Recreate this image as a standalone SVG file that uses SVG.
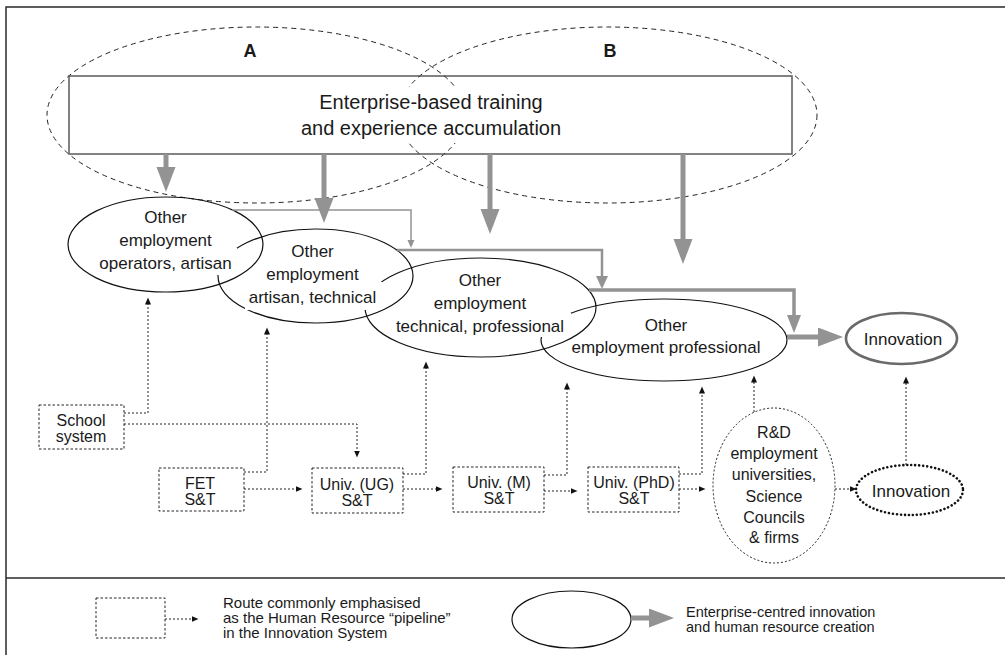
<svg xmlns="http://www.w3.org/2000/svg" width="1005" height="655" viewBox="0 0 1005 655">
  <style>
    text { font-family: "Liberation Sans", Arial, sans-serif; fill: #1a1a1a; text-anchor: middle; }
    .t17 { font-size: 17px; }
    .t16 { font-size: 16px; }
    .big { font-size: 20px; }
    .lbl { font-size: 18px; font-weight: bold; }
    .leg { font-size: 15px; text-anchor: start; }
    .leg2 { font-size: 14.5px; text-anchor: start; }
    .frame { fill: none; stroke: #2a2a2a; stroke-width: 1.5; }
    .zone { fill: none; stroke: #222; stroke-width: 1; stroke-dasharray: 5 4; }
    .emp { fill: none; stroke: #111; stroke-width: 1.2; }
    .box { fill: #fff; stroke: #222; stroke-width: 1; stroke-dasharray: 2.5 2; }
    .rd { fill: #fff; stroke: #222; stroke-width: 1; stroke-dasharray: 2 2; }
    .innov { fill: #fff; stroke: #6a6a6a; stroke-width: 2.6; }
    .innovdot { fill: #fff; stroke: #111; stroke-width: 2.6; stroke-dasharray: 0.01 4; stroke-linecap: round; }
    .gthick { fill: none; stroke: #939393; stroke-width: 5; }
    .pipe { fill: none; stroke: #222; stroke-width: 1; stroke-dasharray: 2 2; marker-end: url(#dotHead); }
    .mask { fill: #fff; stroke: none; }
  </style>
  <defs>
    <marker id="dotHead" markerUnits="userSpaceOnUse" markerWidth="8" markerHeight="7" refX="0.5" refY="3" orient="auto">
      <path d="M0,0 L7,3 L0,6 z" fill="#111"/>
    </marker>
    <marker id="gHeadL" markerUnits="userSpaceOnUse" markerWidth="26" markerHeight="20" refX="0.5" refY="9.5" orient="auto">
      <path d="M0,0 L25,9.5 L0,19 z" fill="#939393"/>
    </marker>
    <marker id="gHead3" markerUnits="userSpaceOnUse" markerWidth="19" markerHeight="15" refX="0.5" refY="7" orient="auto">
      <path d="M0,0 L18,7 L0,14 z" fill="#939393"/>
    </marker>
    <marker id="gHeadM" markerUnits="userSpaceOnUse" markerWidth="14" markerHeight="13" refX="0.5" refY="6" orient="auto">
      <path d="M0,0 L13,6 L0,12 z" fill="#939393"/>
    </marker>
    <marker id="gHeadS" markerUnits="userSpaceOnUse" markerWidth="9" markerHeight="8" refX="0.5" refY="3.5" orient="auto">
      <path d="M0,0 L8,3.5 L0,7 z" fill="#939393"/>
    </marker>
    <clipPath id="crossClip">
      <rect x="405" y="76" width="55" height="11"/>
      <rect x="405" y="143" width="55" height="11"/>
    </clipPath>
  </defs>

  <!-- outer frame and legend divider -->
  <path class="frame" d="M1005,7 H6 V655"/>
  <line class="frame" x1="6" y1="578" x2="1005" y2="578"/>

  <!-- zones A and B -->
  <g id="zoneA">
    <ellipse class="zone" cx="256.5" cy="115" rx="209.5" ry="88"/>
    <text class="lbl" x="250" y="57">A</text>
  </g>
  <g id="zoneB">
    <ellipse class="zone" cx="607.5" cy="115" rx="209.5" ry="88"/>
    <text class="lbl" x="610" y="57">B</text>
  </g>

  <!-- enterprise training bar -->
  <g id="enterprise">
    <rect x="69" y="76" width="723" height="78" fill="#fff" stroke="#5a5a5a" stroke-width="1.5"/>
    <g clip-path="url(#crossClip)">
      <ellipse class="zone" cx="256.5" cy="115" rx="209.5" ry="88"/>
      <ellipse class="zone" cx="607.5" cy="115" rx="209.5" ry="88"/>
    </g>
    <text class="big" x="431" y="109">Enterprise-based training</text>
    <text class="big" x="431" y="135">and experience accumulation</text>
  </g>

  <!-- employment levels -->
  <g id="emp1">
    <ellipse class="emp" cx="165.5" cy="244.5" rx="97.5" ry="47.5"/>
  </g>
  <g id="emp2">
    <ellipse class="emp" cx="315.5" cy="276" rx="97.5" ry="47"/>
  </g>
  <g id="emp3">
    <ellipse class="emp" cx="480.5" cy="307.5" rx="115.5" ry="49.5"/>
  </g>
  <g id="emp4">
    <ellipse class="emp" cx="664" cy="340" rx="123" ry="41"/>
  </g>
  <g id="emp1-label">
    <rect class="mask" x="96" y="248" width="141" height="27"/>
    <text class="t17" x="165.5" y="223">Other</text>
    <text class="t17" x="165.5" y="246">employment</text>
    <text class="t17" x="165.5" y="268.5">operators, artisan</text>
  </g>
  <g id="emp2-label">
    <rect class="mask" x="245" y="282" width="137" height="28"/>
    <text class="t17" x="312.5" y="257">Other</text>
    <text class="t17" x="312.5" y="280">employment</text>
    <text class="t17" x="312.5" y="303">artisan, technical</text>
  </g>
  <g id="emp3-label">
    <rect class="mask" x="391" y="313" width="180" height="24"/>
    <text class="t17" x="480" y="286">Other</text>
    <text class="t17" x="480" y="308.5">employment</text>
    <text class="t17" x="480" y="332">technical, professional</text>
  </g>
  <g id="emp4-label">
    <text class="t17" x="666" y="331">Other</text>
    <text class="t17" x="666" y="353">employment professional</text>
  </g>

  <!-- innovation outcomes -->
  <g id="innovation-enterprise">
    <ellipse class="innov" cx="901.5" cy="338.5" rx="55.5" ry="25.5"/>
    <text class="t17" x="903" y="345">Innovation</text>
  </g>
  <g id="innovation-rd">
    <ellipse class="innovdot" cx="909.5" cy="490" rx="53.5" ry="25"/>
    <text class="t17" x="911" y="497">Innovation</text>
  </g>

  <!-- R&D employment -->
  <g id="rd">
    <ellipse class="rd" cx="774" cy="485.5" rx="61" ry="77.5"/>
    <text class="t16" x="774" y="438">R&amp;D</text>
    <text class="t16" x="774" y="459">employment</text>
    <text class="t16" x="774" y="480">universities,</text>
    <text class="t16" x="774" y="502">Science</text>
    <text class="t16" x="774" y="523">Councils</text>
    <text class="t16" x="774" y="543">&amp; firms</text>
  </g>

  <!-- education pipeline -->
  <g id="school">
    <rect class="box" x="39" y="405" width="85" height="44"/>
    <text class="t16" x="81" y="426">School</text>
    <text class="t16" x="81" y="442">system</text>
  </g>
  <g id="fet">
    <rect class="box" x="159" y="468" width="85" height="43"/>
    <text class="t16" x="200" y="489">FET</text>
    <text class="t16" x="200" y="505">S&amp;T</text>
  </g>
  <g id="univ-ug">
    <rect class="box" x="312" y="468" width="91" height="45"/>
    <text class="t16" x="357" y="490">Univ. (UG)</text>
    <text class="t16" x="357" y="506">S&amp;T</text>
  </g>
  <g id="univ-m">
    <rect class="box" x="453" y="467" width="91" height="45"/>
    <text class="t16" x="499" y="488">Univ. (M)</text>
    <text class="t16" x="499" y="504">S&amp;T</text>
  </g>
  <g id="univ-phd">
    <rect class="box" x="588" y="467" width="91" height="45"/>
    <text class="t16" x="634" y="488">Univ. (PhD)</text>
    <text class="t16" x="634" y="504">S&amp;T</text>
  </g>

  <!-- connectors -->
  <g id="connectors">
    <!-- enterprise training feeding each level -->
    <path class="gthick" d="M166,154 V167.5" marker-end="url(#gHeadL)"/>
    <path class="gthick" d="M324,154 V198.5" marker-end="url(#gHeadL)"/>
    <path class="gthick" d="M490,154 V209.5" marker-end="url(#gHeadL)"/>
    <path class="gthick" d="M683,154 V239.5" marker-end="url(#gHeadL)"/>
    <!-- progression between levels -->
    <path d="M232,210 H411 V240.5" fill="none" stroke="#939393" stroke-width="1.5" marker-end="url(#gHeadS)"/>
    <path d="M397,250 H602 V276.5" fill="none" stroke="#939393" stroke-width="2.5" marker-end="url(#gHeadM)"/>
    <path d="M589,290 H794 V315.5" fill="none" stroke="#939393" stroke-width="3.5" marker-end="url(#gHead3)"/>
    <path class="gthick" d="M787,337 H818.5" marker-end="url(#gHeadL)"/>
    <!-- pipeline routes -->
    <path class="pipe" d="M124,413 H148 V304"/>
    <path class="pipe" d="M124,424 H357 V451"/>
    <path class="pipe" d="M244,472 H267 V334"/>
    <path class="pipe" d="M244,489 H296"/>
    <path class="pipe" d="M403,474 H426 V368"/>
    <path class="pipe" d="M403,489 H436"/>
    <path class="pipe" d="M544,475 H567 V389"/>
    <path class="pipe" d="M544,491 H571"/>
    <path class="pipe" d="M679,474 H702 V393"/>
    <path class="pipe" d="M679,489 H699"/>
    <path class="pipe" d="M754,412 V382"/>
    <path class="pipe" d="M835,489 H850"/>
    <path class="pipe" d="M906,465 V383"/>
  </g>

  <!-- legend -->
  <g id="legend-pipeline">
    <rect class="box" x="96" y="598" width="69" height="40"/>
    <path class="pipe" d="M165,619 H192"/>
    <text class="leg" x="223" y="608">Route commonly emphasised</text>
    <text class="leg" x="223" y="623">as the Human Resource “pipeline”</text>
    <text class="leg" x="223" y="638">in the Innovation System</text>
  </g>
  <g id="legend-enterprise">
    <ellipse class="emp" cx="571.5" cy="619.5" rx="59.5" ry="28.5"/>
    <path class="gthick" d="M631,618 H649.5" marker-end="url(#gHeadL)"/>
    <text class="leg2" x="686" y="616.5">Enterprise-centred innovation</text>
    <text class="leg2" x="686" y="631.5">and human resource creation</text>
  </g>
</svg>
